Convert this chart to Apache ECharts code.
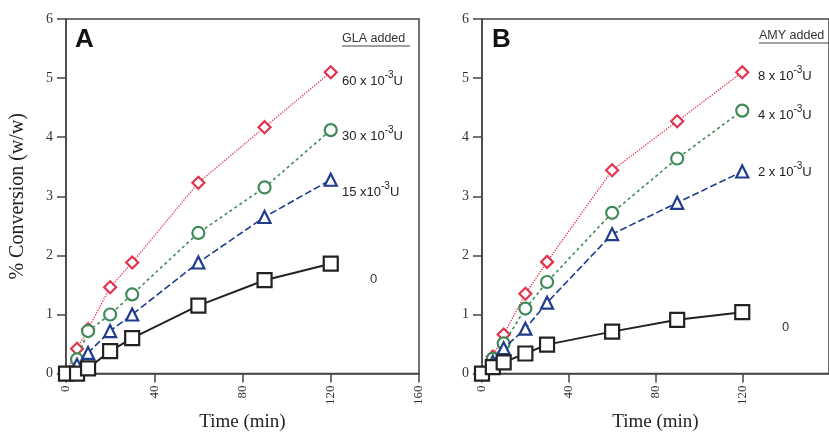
<!DOCTYPE html>
<html><head><meta charset="utf-8">
<script src="https://cdn.jsdelivr.net/npm/echarts@6/dist/echarts.min.js"></script>
<style>html,body{margin:0;padding:0;background:#fff}#c{width:829px;height:437px}</style>
</head><body><div id="c"></div>
<script>
const time = [0, 5, 10, 20, 30, 60, 90, 120];
const xTicks = [0, 40, 80, 120, 160];
const yTicks = [0, 1, 2, 3, 4, 5, 6];

const A_red   = [0, 0.42, 0.75, 1.46, 1.88, 3.23, 4.17, 5.10];
const A_green = [0, 0.24, 0.72, 1.00, 1.34, 2.38, 3.15, 4.12];
const A_blue  = [0, 0.15, 0.35, 0.72, 1.00, 1.88, 2.65, 3.28];
const A_black = [0, 0.00, 0.09, 0.38, 0.60, 1.15, 1.58, 1.86];

const B_red   = [0, 0.29, 0.66, 1.35, 1.89, 3.44, 4.27, 5.10];
const B_green = [0, 0.25, 0.51, 1.10, 1.55, 2.72, 3.64, 4.45];
const B_blue  = [0, 0.20, 0.43, 0.76, 1.20, 2.36, 2.89, 3.42];
const B_black = [0, 0.11, 0.19, 0.34, 0.49, 0.71, 0.91, 1.04];

const labelsA = ['60 x 10', '30 x 10', '15 x10', '0'];
const labelsB = ['8 x 10', '4 x 10', '2 x 10', '0'];

const RED = '#e2344f', GREEN = '#3f8a58', BLUE = '#1f3d8c', BLACK = '#222';
const AX = '#444';
const serif = '"Liberation Serif", "DejaVu Serif", serif';
const sans = '"Liberation Sans", Arial, sans-serif';

function pairs(vals) { return time.map((t, i) => [t, vals[i]]); }

function mkSeries(idx, vals, color, symbol, size, lineType, lineWidth, z) {
  return {
    type: 'line', xAxisIndex: idx, yAxisIndex: idx, data: pairs(vals),
    symbol: symbol, symbolSize: size, showAllSymbol: true, z: z,
    lineStyle: { color: color, width: lineWidth, type: lineType },
    itemStyle: { color: '#fff', borderColor: color, borderWidth: 2.2 },
    emphasis: { disabled: true }, animation: false
  };
}

function xAx(idx) {
  return {
    type: 'value', gridIndex: idx, min: 0, max: 160, interval: 40,
    name: 'Time (min)', nameLocation: 'middle', nameGap: 36,
    nameTextStyle: { fontFamily: serif, fontSize: 19, color: '#222' },
    axisLine: { lineStyle: { color: AX, width: 1.5 } },
    axisTick: { length: 9, lineStyle: { color: AX, width: 1.5 } },
    axisLabel: { rotate: 90, fontFamily: serif, fontSize: 13, color: '#333', margin: 12,
      showMaxLabel: idx === 0 },
    splitLine: { show: false }
  };
}
function yAx(idx) {
  return {
    type: 'value', gridIndex: idx, min: 0, max: 6, interval: 1,
    name: idx === 0 ? '% Conversion (w/w)' : '', nameLocation: 'middle', nameGap: 38, nameRotate: 90,
    nameTextStyle: { fontFamily: serif, fontSize: 20, color: '#222' },
    axisLine: { lineStyle: { color: AX, width: 1.5 } },
    axisTick: { length: 9, lineStyle: { color: AX, width: 1.5 } },
    axisLabel: { fontFamily: serif, fontSize: 14, color: '#333', margin: 13 },
    splitLine: { show: false }
  };
}

function supLabel(base, x, y) {
  if (base === '0') {
    return { type: 'text', left: x, top: y - 8, style: { text: '0', font: '13px ' + sans, fill: '#333' } };
  }
  return {
    type: 'text', left: x, top: y - 10,
    style: {
      text: '{a|' + base + '}{s|-3}{a|U}',
      rich: {
        a: { fontFamily: sans, fontSize: 13, fill: '#222', verticalAlign: 'bottom', lineHeight: 18 },
        s: { fontFamily: sans, fontSize: 10, fill: '#222', verticalAlign: 'top', lineHeight: 18 }
      }
    }
  };
}

const chart = echarts.init(document.getElementById('c'), null, { renderer: 'canvas' });
chart.setOption({
  animation: false,
  backgroundColor: '#fff',
  grid: [
    { left: 66, top: 19, width: 353, height: 357, show: true, borderColor: AX, borderWidth: 1.5, backgroundColor: 'transparent' },
    { left: 482, top: 19, width: 354, height: 357, show: true, borderColor: AX, borderWidth: 1.5, backgroundColor: 'transparent' }
  ],
  xAxis: [xAx(0), xAx(1)],
  yAxis: [yAx(0), yAx(1)],
  series: [
    mkSeries(0, A_red, RED, 'diamond', 12, 'dotted', 1.3, 3),
    mkSeries(0, A_green, GREEN, 'circle', 12, [3, 3], 1.6, 4),
    mkSeries(0, A_blue, BLUE, 'triangle', 12, [7, 3], 1.6, 5),
    mkSeries(0, A_black, BLACK, 'rect', 14, 'solid', 2, 6),
    mkSeries(1, B_red, RED, 'diamond', 12, 'dotted', 1.3, 3),
    mkSeries(1, B_green, GREEN, 'circle', 12, [3, 3], 1.6, 4),
    mkSeries(1, B_blue, BLUE, 'triangle', 12, [7, 3], 1.6, 5),
    mkSeries(1, B_black, BLACK, 'rect', 14, 'solid', 2, 6)
  ],
  graphic: [
    { type: 'text', left: 75, top: 27, style: { text: 'A', font: 'bold 26px ' + sans, fill: '#111' } },
    { type: 'text', left: 492, top: 27, style: { text: 'B', font: 'bold 26px ' + sans, fill: '#111' } },
    { type: 'text', left: 342, top: 32, style: { text: 'GLA added', font: '12.5px ' + sans, fill: '#333' } },
    { type: 'line', shape: { x1: 342, y1: 46, x2: 410, y2: 46 }, style: { stroke: '#444', lineWidth: 1 } },
    { type: 'text', left: 759, top: 29, style: { text: 'AMY added', font: '12.5px ' + sans, fill: '#333' } },
    { type: 'line', shape: { x1: 759, y1: 43, x2: 829, y2: 43 }, style: { stroke: '#444', lineWidth: 1 } },
    supLabel(labelsA[0], 342, 80),
    supLabel(labelsA[1], 342, 135),
    supLabel(labelsA[2], 342, 191),
    supLabel(labelsA[3], 370, 281),
    supLabel(labelsB[0], 758, 75),
    supLabel(labelsB[1], 758, 114),
    supLabel(labelsB[2], 758, 171),
    supLabel(labelsB[3], 782, 329)
  ]
});
</script></body></html>
